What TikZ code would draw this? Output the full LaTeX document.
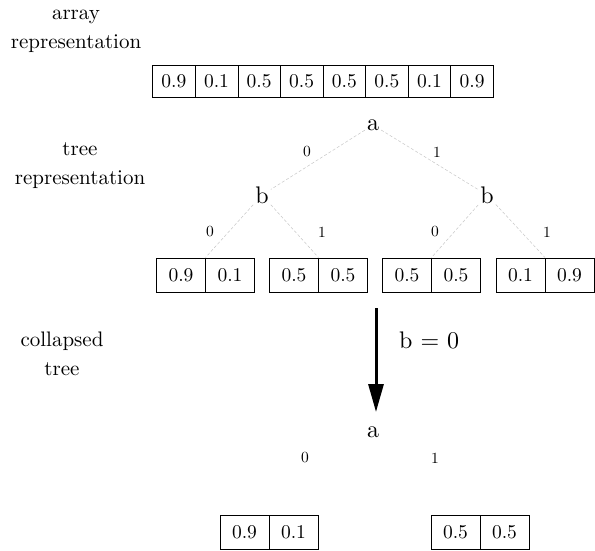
\documentclass[tikz,border=0pt]{standalone}
\usepackage{fontspec}
\newfontfamily\tenrm{lmroman10-regular}[Extension=.otf]
\usepackage{tikz}
\usetikzlibrary{matrix,arrows.meta}

\tikzset{
  cell/.style={draw, line width=0.6pt, minimum height=32pt, minimum width=42.6pt, inner sep=0pt, font=\tenrm\fontsize{19.5}{22}\selectfont},
  pair/.style={matrix of nodes, inner sep=0pt, column sep=-0.6pt, nodes={cell, minimum width=49pt, minimum height=34pt}},
  var/.style={font=\tenrm\fontsize{24}{30}\selectfont, inner sep=2pt},
  val/.style={font=\tenrm\fontsize{15.5}{19}\selectfont},
  side/.style={align=center, font=\tenrm\fontsize{21}{29}\selectfont},
  tedge/.style={draw=gray!45, line width=0.5pt, densely dashed},
}

\begin{document}
\begin{tikzpicture}[x=1pt, y=-1pt]
  \useasboundingbox (0,0) rectangle (595,550);
  % labels on the left
  \node[side] (arrlab) at (76,31) {array\\representation};
  \node[side] (treelab) at (80,166) {tree\\representation};
  \node[side] (collab) at (62,354) {collapsed\\tree};

  % array
  \matrix (arr) [matrix of nodes, inner sep=0pt, column sep=-0.6pt, nodes={cell}] at (323,81)
  { 0.9 & 0.1 & 0.5 & 0.5 & 0.5 & 0.5 & 0.1 & 0.9 \\ };

  % tree
  \node[var] (a) at (373,125) {a};
  \node[var] (bl) at (262,195) {b};
  \node[var] (br) at (487,195) {b};
  \node[val] (a0) at (307,152) {0};
  \node[val] (a1) at (437,152) {1};
  \node[val] (bl0) at (210,232) {0};
  \node[val] (bl1) at (322,232) {1};
  \node[val] (br0) at (435,232) {0};
  \node[val] (br1) at (547,232) {1};
  \matrix (p1) [pair] at (205.5,275) { 0.9 & 0.1 \\ };
  \matrix (p2) [pair] at (318.5,275) { 0.5 & 0.5 \\ };
  \matrix (p3) [pair] at (431.5,275) { 0.5 & 0.5 \\ };
  \matrix (p4) [pair] at (545,275) { 0.1 & 0.9 \\ };
  \path[tedge]
  (a) edge (bl)
  (a) edge (br)
  (bl) edge (p1.north)
  (bl) edge (p2.north)
  (br) edge (p3.north)
  (br) edge (p4.north)
  ;

  % collapse
  \coordinate (from) at (376,308);
  \coordinate (to) at (376,412);
  \draw[line width=3pt, -{Triangle[length=28pt,width=15pt]}] (from) -- (to);
  \node[var, anchor=west] (cond) at (397,340) {b = 0};

  % collapsed tree
  \node[var] (ca) at (373,432) {a};
  \node[val] (ca0) at (305,458) {0};
  \node[val] (ca1) at (435,458) {1};
  \matrix (q1) [pair] at (269,532) { 0.9 & 0.1 \\ };
  \matrix (q2) [pair] at (480,532) { 0.5 & 0.5 \\ };
\end{tikzpicture}
\end{document}
